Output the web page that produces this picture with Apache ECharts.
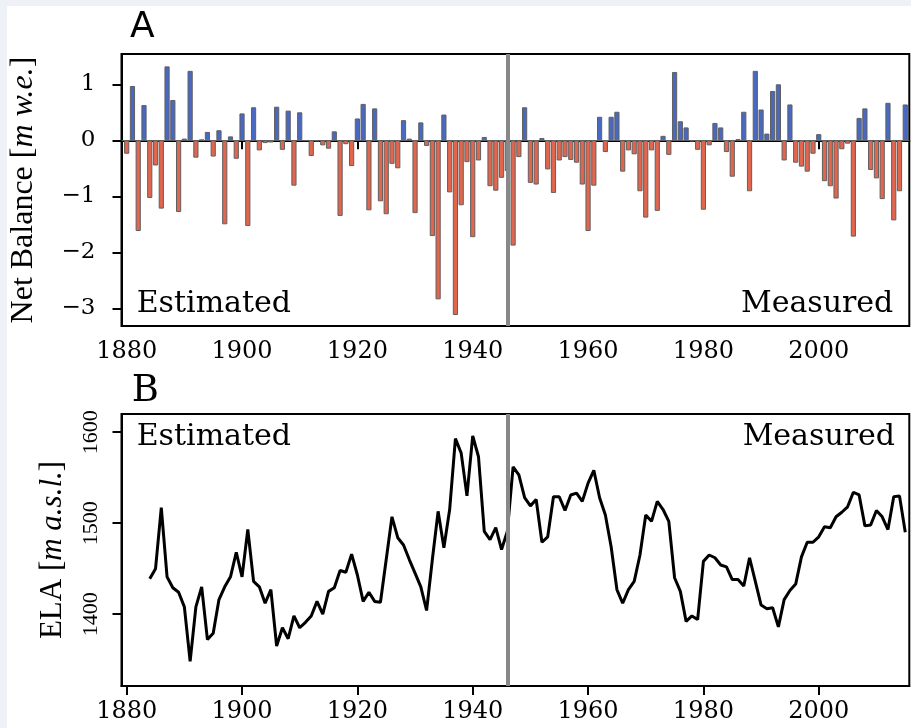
<!DOCTYPE html>
<html><head><meta charset="utf-8">
<script src="https://cdn.jsdelivr.net/npm/echarts@6/dist/echarts.min.js"></script>
<style>
html,body{margin:0;padding:0;background:#eef2f7;width:911px;height:728px;overflow:hidden;}
#c{position:absolute;left:7px;top:6px;width:904px;height:722px;background:#fff;}
</style>
</head><body><div id="c"></div>
<script>
// ---- data ----
const tickYears = [1880, 1900, 1920, 1940, 1960, 1980, 2000];
const balanceTicks = [-3, -2, -1, 0, 1];
const elaTicks = [1400, 1500, 1600];
const splitYear = 1946;

const balanceStartYear = 1880;
const netBalance = [
  -0.24, 0.97, -1.62, 0.63, -1.03, -0.45, -1.22, 1.32, 0.72, -1.28,
  0.03, 1.24, -0.31, 0.01, 0.15, -0.29, 0.18, -1.50, 0.07, -0.33,
  0.48, -1.53, 0.59, -0.18, -0.05, -0.04, 0.60, -0.17, 0.53, -0.81,
  0.50, -0.01, -0.28, -0.02, -0.09, -0.15, 0.16, -1.35, -0.07, -0.46,
  0.39, 0.65, -1.25, 0.57, -1.09, -1.32, -0.42, -0.50, 0.36, 0.03,
  -1.30, 0.32, -0.10, -1.71, -2.84, 0.46, -0.93, -3.12, -1.16, -0.39,
  -1.73, -0.36, 0.06, -0.82, -0.90, -0.67, -0.55, -1.88, -0.30, 0.59,
  -0.76, -0.79, 0.04, -0.52, -0.94, -0.36, -0.30, -0.35, -0.40, -0.79,
  -1.62, -0.81, 0.42, -0.21, 0.42, 0.51, -0.56, -0.18, -0.25, -0.91,
  -1.38, -0.18, -1.26, 0.08, -0.26, 1.22, 0.34, 0.23, -0.02, -0.17,
  -1.24, -0.09, 0.31, 0.23, -0.21, -0.65, 0.02, 0.51, -0.91, 1.24,
  0.55, 0.12, 0.88, 1.00, -0.36, 0.64, -0.40, -0.47, -0.56, -0.24,
  0.11, -0.73, -0.82, -1.04, -0.16, -0.06, -1.72, 0.40, 0.57, -0.53,
  -0.68, -1.05, 0.67, -1.43, -0.91, 0.64
];

const elaStartYear = 1884;
const elaValues = [
  1439, 1450, 1517, 1441, 1429, 1424, 1408, 1348, 1408, 1430,
  1372, 1379, 1416, 1430, 1441, 1468, 1441, 1493, 1436, 1430,
  1412, 1427, 1365, 1385, 1373, 1398, 1385, 1391, 1398, 1414,
  1400, 1425, 1429, 1448, 1446, 1466, 1443, 1414, 1424, 1414,
  1413, 1460, 1507, 1484, 1476, 1460, 1445, 1430, 1404, 1460,
  1513, 1473, 1515, 1593, 1577, 1530, 1596, 1573, 1491, 1482,
  1495, 1471, 1491, 1562, 1553, 1528, 1519, 1526, 1479, 1485,
  1529, 1529, 1514, 1531, 1533, 1524, 1544, 1558, 1528, 1509,
  1474, 1427, 1412, 1427, 1436, 1465, 1509, 1502, 1524, 1515,
  1502, 1440, 1425, 1392, 1398, 1394, 1458, 1465, 1462, 1454,
  1452, 1438, 1438, 1431, 1462, 1436, 1410, 1406, 1407, 1386,
  1416, 1426, 1433, 1463, 1479, 1479, 1485, 1496, 1495, 1507,
  1512, 1518, 1534, 1531, 1497, 1498, 1514, 1507, 1493, 1529,
  1530, 1490
];

// ---- build ----
const balData = netBalance.map((v, i) => [balanceStartYear + i, v]);
const elaData = elaValues.map((v, i) => [elaStartYear + i, v]);

const BLUE = '#4868c2', RED = '#e2654e';
const SERIF = 'DejaVu Serif';
const LSERIF = 'Liberation Serif';

function xAxis(gi) {
  return {
    type: 'value', gridIndex: gi, min: 1879.1, max: 2015.7,
    axisLine: { show: true, lineStyle: { color: '#000', width: 2 } },
    axisTick: { show: true, customValues: tickYears, length: 9, lineStyle: { color: '#000', width: 2 } },
    axisLabel: { customValues: tickYears, fontFamily: SERIF, fontSize: 24, color: '#000', margin: 14,
                 formatter: v => String(v) },
    splitLine: { show: false }
  };
}

const chart = echarts.init(document.getElementById('c'), null, { renderer: 'canvas' });
chart.setOption({
  animation: false,
  backgroundColor: '#fff',
  grid: [
    { left: 114.5, top: 48, width: 787.8, height: 272, show: true, borderColor: '#000', borderWidth: 2,
      backgroundColor: 'transparent', containLabel: false, outerBoundsMode: 'none' },
    { left: 114.5, top: 408, width: 787.8, height: 272, show: true, borderColor: '#000', borderWidth: 2,
      backgroundColor: 'transparent', containLabel: false, outerBoundsMode: 'none' }
  ],
  xAxis: [xAxis(0), xAxis(1)],
  yAxis: [
    {
      type: 'value', gridIndex: 0, min: -3.316, max: 1.541,
      axisLine: { show: true, lineStyle: { color: '#000', width: 2 } },
      axisTick: { show: true, customValues: balanceTicks, length: 9, lineStyle: { color: '#000', width: 2 } },
      axisLabel: { customValues: balanceTicks, fontFamily: SERIF, fontSize: 23, color: '#000', margin: 26,
                   formatter: v => (v < 0 ? '\u2212' + Math.abs(v) : String(v)) },
      splitLine: { show: false },
      name: 'Net Balance [{it|m w.e.}]', nameLocation: 'middle', nameGap: 82, nameRotate: 90,
      nameTextStyle: { fontFamily: LSERIF, fontSize: 32, color: '#000',
                       rich: { it: { fontFamily: LSERIF, fontSize: 32, fontStyle: 'italic', color: '#000' } } }
    },
    {
      type: 'value', gridIndex: 1, min: 1321, max: 1620,
      axisLine: { show: true, lineStyle: { color: '#000', width: 2 } },
      axisTick: { show: true, customValues: elaTicks, length: 9, lineStyle: { color: '#000', width: 2 } },
      axisLabel: { customValues: elaTicks, fontFamily: LSERIF, fontSize: 22, color: '#000', margin: 19, rotate: 90,
                   formatter: v => String(v) },
      splitLine: { show: false },
      name: 'ELA [{it|m a.s.l.}]', nameLocation: 'middle', nameGap: 53, nameRotate: 90,
      nameTextStyle: { fontFamily: LSERIF, fontSize: 31, color: '#000',
                       rich: { it: { fontFamily: LSERIF, fontSize: 31, fontStyle: 'italic', color: '#000' } } }
    }
  ],
  graphic: [
    { type: 'text', left: 123, top: 4, style: { text: 'A', font: '36px "DejaVu Sans"', fill: '#000' } },
    { type: 'text', x: 124.7, y: 385.5, style: { text: 'B', font: '37px "DejaVu Serif"', fill: '#000', textVerticalAlign: 'middle' } },
    { type: 'text', x: 129.7, y: 298, style: { text: 'Estimated', font: '30px "DejaVu Serif"', fill: '#000', textVerticalAlign: 'middle' } },
    { type: 'text', x: 886.3, y: 298, style: { text: 'Measured', font: '30px "DejaVu Serif"', fill: '#000', textAlign: 'right', textVerticalAlign: 'middle' } },
    { type: 'text', x: 129.7, y: 431.5, style: { text: 'Estimated', font: '30px "DejaVu Serif"', fill: '#000', textVerticalAlign: 'middle' } },
    { type: 'text', x: 888, y: 431.5, style: { text: 'Measured', font: '30px "DejaVu Serif"', fill: '#000', textAlign: 'right', textVerticalAlign: 'middle' } }
  ],
  series: [
    {
      type: 'bar', xAxisIndex: 0, yAxisIndex: 0, data: balData, barWidth: 5.2,
      itemStyle: { color: p => (p.value[1] >= 0 ? BLUE : RED), borderColor: '#606060', borderWidth: 1 },
      markLine: {
        silent: true, symbol: 'none', label: { show: false }, animation: false,
        data: [
          { yAxis: 0, lineStyle: { color: '#606060', width: 1, type: 'solid' } },
          { xAxis: splitYear, lineStyle: { color: '#888', width: 4, type: 'solid' } }
        ]
      }
    },
    {
      type: 'line', xAxisIndex: 1, yAxisIndex: 1, data: elaData, showSymbol: false, symbol: 'none',
      lineStyle: { color: '#000', width: 3 },
      markLine: {
        silent: true, symbol: 'none', label: { show: false }, animation: false,
        data: [ { xAxis: splitYear, lineStyle: { color: '#888', width: 4, type: 'solid' } } ]
      }
    }
  ]
});
</script>
</body></html>
